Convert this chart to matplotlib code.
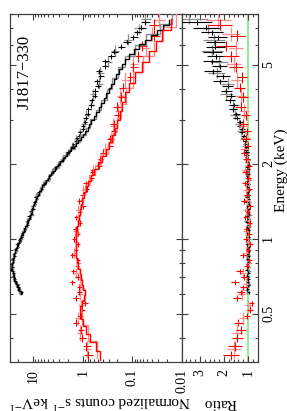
import numpy as np
import matplotlib
matplotlib.use('Agg')
import matplotlib.pyplot as plt
from matplotlib.ticker import FixedLocator, FixedFormatter, NullFormatter

plt.rcParams['font.family'] = ['Liberation Serif', 'DejaVu Serif']
plt.rcParams['mathtext.fontset'] = 'stix'

# ---------------- data ----------------
# black spectrum: bin centre energy (keV), counts, model, fractional error
blk_E = [0.61,0.63,0.65,0.67,0.69,0.71,0.73,0.75,0.77,0.79,
         0.81,0.83,0.85,0.87,0.89,0.91,0.93,0.95,0.97,0.99,
         1.02,1.05,1.08,1.11,1.14,1.17,1.20,1.23,1.26,1.29,
         1.32,1.35,1.38,1.41,1.44,1.47,1.50,1.54,1.58,1.62,
         1.66,1.70,1.74,1.78,1.82,1.86,1.90,1.94,1.98,2.03,
         2.08,2.13,2.18,2.23,2.28,2.34,2.40,2.46,2.53,2.60,
         2.68,2.76,2.85,2.95,3.06,3.18,3.31,3.45,3.60,3.76,
         3.93,4.11,4.30,4.50,4.71,4.93,5.16,5.40,5.65,5.91,
         6.18,6.46,6.75,7.05,7.40]
blk_c = [17.0,19.8,20.6,22.9,23.5,25.6,25.1,27.4,26.2,27.3,
         25.4,26.3,24.1,24.6,22.4,22.8,20.6,20.9,18.7,18.9,
         16.8,16.7,14.9,14.8,13.2,13.4,12.0,12.3,11.0,11.2,
         10.1,10.3,9.3,9.5,8.6,8.8,7.8,7.7,6.8,6.7,
         5.8,5.7,5.0,4.8,4.2,4.1,3.6,3.55,3.1,2.95,
         2.55,2.45,2.15,2.0,1.85,1.65,1.55,1.40,1.32,1.18,
         1.12,1.00,0.99,0.90,0.88,0.80,0.78,0.68,0.66,0.58,
         0.57,0.50,0.52,0.44,0.47,0.36,0.35,0.27,0.23,0.17,
         0.13,0.095,0.080,0.066,0.056]
blk_m = [17.5,19.3,21.0,22.5,23.8,24.8,25.6,26.2,26.5,26.4,
         26.0,25.4,24.7,23.9,23.0,22.1,21.2,20.3,19.4,18.6,
         17.4,16.3,15.3,14.4,13.6,12.9,12.3,11.8,11.3,10.8,
         10.4,10.0,9.6,9.2,8.85,8.5,8.1,7.6,7.05,6.5,
         6.0,5.55,5.1,4.7,4.35,4.0,3.7,3.4,3.15,2.85,
         2.55,2.3,2.08,1.88,1.7,1.52,1.37,1.24,1.11,1.0,
         0.89,0.80,0.74,0.67,0.60,0.54,0.48,0.43,0.38,0.34,
         0.30,0.27,0.24,0.215,0.19,0.165,0.14,0.115,0.093,0.072,
         0.055,0.042,0.032,0.024,0.018]
blk_f = [0.07,0.06,0.06,0.06,0.06,0.06,0.06,0.06,0.06,0.06,
         0.06,0.06,0.06,0.06,0.06,0.06,0.06,0.06,0.06,0.06,
         0.06,0.06,0.06,0.065,0.065,0.065,0.065,0.065,0.065,0.065,
         0.07,0.07,0.07,0.07,0.07,0.07,0.07,0.07,0.07,0.07,
         0.07,0.07,0.07,0.07,0.07,0.07,0.07,0.07,0.07,0.07,
         0.075,0.075,0.08,0.08,0.08,0.085,0.085,0.085,0.09,0.09,
         0.09,0.09,0.10,0.10,0.10,0.11,0.11,0.11,0.12,0.12,
         0.12,0.13,0.13,0.14,0.14,0.15,0.15,0.16,0.16,0.17,
         0.17,0.18,0.18,0.19,0.20]

# grey spectrum
gry_E = [0.62,0.66,0.70,0.74,0.78,0.82,0.86,0.90,0.95,1.00,1.06,1.12,1.18,1.25,
         1.32,1.40,1.48,1.57,1.66,1.76,1.87,1.98,2.10,2.23,2.37,2.52,2.70,2.90,
         3.15,3.45,3.80,4.20,4.65,5.15,5.70,6.30,7.00,7.65]
gry_c = [19.3,20.7,25.0,25.1,27.6,25.2,25.0,21.9,21.3,17.5,16.6,13.7,13.3,10.9,
         10.7,9.2,8.9,6.9,6.2,4.8,4.1,3.0,2.55,2.03,1.62,1.36,1.13,0.95,
         0.85,0.69,0.63,0.47,0.45,0.31,0.225,0.125,0.075,0.055]
gry_m = [18.4,21.8,24.3,25.9,26.5,25.7,24.3,22.6,20.3,18.2,16.0,14.1,12.7,11.5,
         10.4,9.4,8.4,7.2,6.0,4.9,3.9,3.1,2.45,1.88,1.45,1.13,0.87,0.70,
         0.55,0.43,0.33,0.255,0.195,0.14,0.09,0.052,0.028,0.016]
gry_f = [0.10,0.09,0.09,0.09,0.09,0.09,0.09,0.09,0.09,0.09,0.09,0.09,0.10,0.10,
         0.10,0.10,0.10,0.10,0.10,0.10,0.10,0.10,0.11,0.11,0.12,0.12,0.12,0.13,
         0.13,0.14,0.14,0.15,0.16,0.17,0.18,0.19,0.21,0.23]

# red spectrum
red_E = [0.34,0.37,0.40,0.43,0.46,0.49,0.52,0.55,0.58,0.61,0.64,0.67,0.70,
         0.74,0.78,0.82,0.86,0.90,0.95,1.00,
         1.05,1.10,1.16,1.22,1.28,1.35,1.42,1.50,
         1.58,1.67,1.76,1.86,1.97,2.09,
         2.22,2.36,2.52,2.70,2.90,
         3.13,3.40,3.70,4.05,4.45,4.90,5.40,5.95,6.55,7.25]
red_c = [0.78,0.85,1.04,1.10,1.36,1.12,1.03,0.90,1.38,1.17,1.18,1.63,1.27,
         1.55,1.30,1.24,1.62,1.37,1.24,1.51,
         1.27,1.40,1.15,1.34,1.14,0.97,1.17,1.01,
         0.84,0.87,0.68,0.65,0.47,0.44,
         0.39,0.29,0.28,0.236,0.24,
         0.198,0.208,0.168,0.155,0.11,0.096,0.078,0.065,0.036,0.037]
red_m = [0.46,0.55,0.72,0.85,0.97,1.07,1.12,1.06,0.95,0.90,0.98,1.05,1.10,
         1.15,1.24,1.31,1.35,1.37,1.38,1.37,
         1.34,1.30,1.25,1.20,1.14,1.08,1.02,0.96,
         0.88,0.78,0.68,0.59,0.49,0.41,
         0.34,0.29,0.255,0.225,0.20,
         0.18,0.16,0.14,0.115,0.088,0.064,0.046,0.034,0.025,0.017]
red_f = [0.20,0.18,0.16,0.15,0.14,0.13,0.13,0.13,0.12,0.12,0.12,0.11,0.11,
         0.10,0.10,0.10,0.10,0.10,0.10,0.10,
         0.10,0.10,0.10,0.10,0.10,0.10,0.11,0.11,
         0.11,0.12,0.12,0.12,0.13,0.13,
         0.14,0.14,0.15,0.15,0.16,
         0.16,0.17,0.17,0.18,0.18,0.19,0.20,0.21,0.22,0.23]

# light-red spectrum
pnk_E = [0.36,0.42,0.48,0.54,0.60,0.66,0.73,0.80,0.88,0.97,1.07,1.18,1.30,1.43,
         1.57,1.72,1.89,2.08,2.30,2.55,2.85,3.25,3.75,4.35,5.05,5.85,6.65,7.60]
pnk_c = [0.83,1.16,1.26,1.08,1.14,1.13,1.37,1.22,1.50,1.38,1.46,1.18,1.23,1.06,
         0.98,0.70,0.63,0.44,0.36,0.275,0.246,0.196,0.176,0.138,0.096,0.054,0.041,0.029]
pnk_m = [0.52,0.80,1.05,1.08,0.91,1.03,1.14,1.28,1.36,1.38,1.33,1.24,1.12,1.01,
         0.89,0.74,0.57,0.42,0.31,0.25,0.205,0.17,0.135,0.095,0.06,0.036,0.024,0.013]
pnk_f = [0.18,0.15,0.13,0.13,0.13,0.12,0.11,0.11,0.10,0.10,0.10,0.10,0.10,0.11,
         0.11,0.12,0.12,0.13,0.14,0.15,0.15,0.16,0.17,0.18,0.19,0.20,0.22,0.24]

count_ticks = [10, 1, 0.1, 0.01]
count_labels = ['10', '1', '0.1', '0.01']
energy_ticks = [0.5, 1, 2, 5]
energy_labels = ['0.5', '1', '2', '5']
ratio_ticks = [1, 2, 3]
ratio_labels = ['1', '2', '3']
source_name = 'J1817\u2212330'

# ---------------- figure ----------------
W, H = 287, 411
fig = plt.figure(figsize=(W / 100, H / 100), dpi=100)
ax1 = fig.add_axes([9.5 / W, 49 / H, 172.5 / W, 348 / H])
ax2 = fig.add_axes([182 / W, 49 / H, 76 / W, 348 / H], sharey=ax1)

FRAME = '#404040'


def edges(E):
    E = np.asarray(E, float)
    mids = np.sqrt(E[:-1] * E[1:])
    lo = np.concatenate([[E[0] ** 2 / mids[0]], mids])
    hi = np.concatenate([mids, [E[-1] ** 2 / mids[-1]]])
    return lo, hi


def draw_set(E, c, m, f, color, lw, z):
    E = np.asarray(E, float)
    c = np.asarray(c, float)
    m = np.asarray(m, float)
    f = np.asarray(f, float)
    lo, hi = edges(E)
    yerr = [E - lo, hi - E]
    ax1.errorbar(c, E, xerr=c * f, yerr=yerr, fmt='none', ecolor=color,
                 elinewidth=lw, capsize=0, zorder=z)
    r = c / m
    ax2.errorbar(r, E, xerr=r * f, yerr=yerr, fmt='none', ecolor=color,
                 elinewidth=lw, capsize=0, zorder=z)


def draw_model(E, m, color, lw, z):
    lo, hi = edges(E)
    ys = np.column_stack([lo, hi]).ravel()
    xs = np.repeat(np.asarray(m, float), 2)
    ax1.plot(xs, ys, color=color, lw=lw, zorder=z, solid_joinstyle='miter')


draw_set(gry_E, gry_c, gry_m, gry_f, '#8c8c8c', 0.9, 2)
draw_set(blk_E, blk_c, blk_m, blk_f, '#000000', 0.8, 3)
draw_set(pnk_E, pnk_c, pnk_m, pnk_f, '#ff8a8a', 0.9, 4)
draw_set(red_E, red_c, red_m, red_f, '#ff0000', 0.8, 5)

draw_model(gry_E, gry_m, '#8c8c8c', 1.0, 6)
draw_model(pnk_E, pnk_m, '#ff8a8a', 1.0, 6)
draw_model(blk_E, blk_m, '#000000', 1.0, 7)
draw_model(red_E, red_m, '#ff0000', 1.0, 7)

ax2.axvline(1.0, color='#98ec98', lw=1.6, zorder=1)

# ---------------- axes ----------------
ax1.set_xscale('log')
ax1.set_yscale('log')
ax1.set_xlim(30, 0.01)
ax1.set_ylim(0.32, 8.0)
ax2.set_xlim(3.75, 0.583)

ax1.xaxis.set_major_locator(FixedLocator(count_ticks))
ax1.xaxis.set_major_formatter(FixedFormatter(count_labels))
minor_c = [k * 10.0 ** p for p in (-2, -1, 0, 1) for k in range(2, 10) if k * 10.0 ** p <= 30]
ax1.xaxis.set_minor_locator(FixedLocator(minor_c))
ax1.xaxis.set_minor_formatter(NullFormatter())

ax1.yaxis.set_major_locator(FixedLocator(energy_ticks))
ax1.yaxis.set_major_formatter(FixedFormatter(energy_labels))
minor_e = [0.4, 0.6, 0.7, 0.8, 0.9, 3, 4, 6, 7, 8]
ax1.yaxis.set_minor_locator(FixedLocator(minor_e))
ax1.yaxis.set_minor_formatter(NullFormatter())

ax2.xaxis.set_major_locator(FixedLocator(ratio_ticks))
ax2.xaxis.set_major_formatter(FixedFormatter(ratio_labels))
ax2.xaxis.set_minor_locator(FixedLocator([0.6 + 0.2 * i for i in range(16)]))
ax2.xaxis.set_minor_formatter(NullFormatter())

for ax in (ax1, ax2):
    for s in ax.spines.values():
        s.set_color(FRAME)
        s.set_linewidth(0.9)
    ax.tick_params(which='both', direction='in', top=True, bottom=True,
                   left=True, right=True, color=FRAME, width=0.8)
    ax.tick_params(which='major', length=4.0)
    ax.tick_params(which='minor', length=2.0)
    ax.tick_params(axis='x', labelsize=10, labelrotation=90, pad=5)

ax1.tick_params(axis='y', labelleft=False, labelright=False)
ax2.tick_params(axis='y', labelleft=False, labelright=True, labelsize=10,
                labelrotation=90, pad=3)
for t in ax2.get_yticklabels():
    t.set_va('center')

fig.text(281 / W, 1 - 170 / H, 'Energy (keV)', rotation=90, ha='center',
         va='center', fontsize=11)
fig.text(100 / W, 1 - 402 / H, r'Normalized counts s$^{-1}$ keV$^{-1}$',
         rotation=180, ha='center', va='center', fontsize=11)
fig.text(220 / W, 1 - 402 / H, 'Ratio', rotation=180, ha='center',
         va='center', fontsize=11)
ax1.text(25 / W, 1 - 72 / H, source_name, transform=fig.transFigure,
         rotation=90, ha='center', va='center', fontsize=12)

fig.savefig('out.png', dpi=100)
